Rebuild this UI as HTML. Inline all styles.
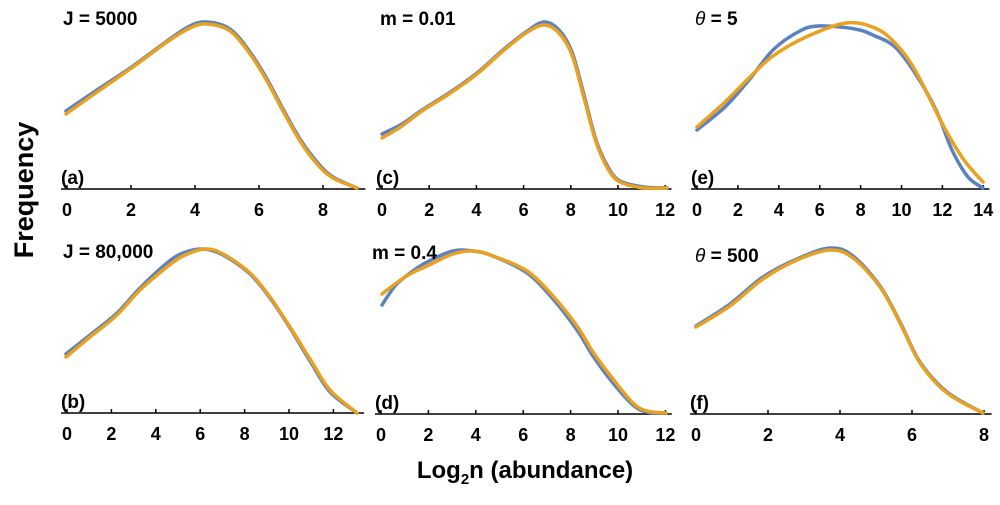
<!DOCTYPE html>
<html><head><meta charset="utf-8">
<style>
body{margin:0;background:#fff;width:1000px;height:500px;overflow:hidden}
svg text{font-family:"Liberation Sans",Arial,sans-serif;font-weight:bold;fill:#000}
</style></head><body>
<svg id="s" width="1000" height="500" viewBox="0 0 1000 500" xmlns="http://www.w3.org/2000/svg">
<g id="axes" stroke="#000" stroke-width="1.5"></g>
<g id="curves" fill="none" stroke-width="3.5" stroke-linecap="round" stroke-linejoin="round"></g>
<g id="txt" font-size="17"></g>
<text x="33" y="190" font-size="27" text-anchor="middle" transform="rotate(-90 33 190)">Frequency</text>
<text x="525" y="478" font-size="24" text-anchor="middle">Log<tspan font-size="15" dy="6">2</tspan><tspan dy="-6">n (abundance)</tspan></text>
</svg>
<script>
var NS="http://www.w3.org/2000/svg";
function el(p,t,a,tx){var e=document.createElementNS(NS,t);for(var k in a)e.setAttribute(k,a[k]);if(tx!=null)e.textContent=tx;document.getElementById(p).appendChild(e);return e;}
function cr(pts){var d="M"+pts[0][0]+","+pts[0][1];for(var i=0;i<pts.length-1;i++){var p0=pts[i-1]||pts[i],p1=pts[i],p2=pts[i+1],p3=pts[i+2]||p2;
d+=" C"+(p1[0]+(p2[0]-p0[0])/6)+","+(p1[1]+(p2[1]-p0[1])/6)+" "+(p2[0]-(p3[0]-p1[0])/6)+","+(p2[1]-(p3[1]-p1[1])/6)+" "+p2[0]+","+p2[1];}return d;}
function sh(a,dx){return a.map(function(q){return [q[0]+dx,q[1]];});}
var panels=[
 {x0:67,y:189,ticks:[0,2,4,6,8],max:9.2,ppu:32,lab:"(a)",title:"J = 5000",tx:63,ty:25,
  b:[[66,111],[100,88],[133,66],[167,41],[190,26],[207,22],[230,29],[250,52],[267,79],[283,109],[300,139],[317,162],[333,177],[357,188]],
  o:[[66,114],[100,90],[133,67],[167,42],[190,28],[207,24],[230,31],[250,54],[267,81],[283,111],[300,141],[317,164],[333,178],[357,188]]},
 {x0:67,y:413,ticks:[0,2,4,6,8,10,12],max:13.2,ppu:22.2,lab:"(b)",title:"J = 80,000",tx:63,ty:258,
  b:[[66,354],[90,335],[117,313],[140,288],[167,263],[183,253],[203,249],[223,255],[250,274],[270,298],[290,328],[310,361],[330,392],[357,413]],
  o:[[66,357],[90,337],[117,315],[140,290],[167,267],[183,256],[205,249],[223,254],[250,273],[270,297],[290,327],[310,359],[330,390],[357,413]]},
 {x0:382,y:189,ticks:[0,2,4,6,8,10,12],max:12.1,ppu:23.6,lab:"(c)",title:"m = 0.01",tx:380,ty:25,
  b:sh([[379,134],[399,124],[419,110],[446,93],[474,73],[500,50],[523,32],[541,22],[556,30],[569,52],[581,95],[593,140],[605,167],[617,181],[641,187],[664,188]],3),
  o:sh([[379,138],[399,126],[419,111],[446,94],[474,74],[500,51],[523,33],[541,25],[556,33],[569,55],[581,98],[593,142],[605,169],[617,182],[641,188],[664,188]],3)},
 {x0:381,y:414,ticks:[0,2,4,6,8,10,12],max:12.1,ppu:23.7,lab:"(d)",title:"m = 0.4",tx:372,ty:259,
  b:[[382,305],[395,286],[410,273],[427,262],[453,251],[473,251],[493,256],[527,273],[553,299],[577,330],[593,356],[613,383],[633,405],[647,412],[666,413]],
  o:[[382,294],[395,284],[410,274],[427,266],[453,254],[473,251],[493,256],[527,271],[553,296],[577,326],[593,352],[613,379],[633,403],[647,411],[666,413]]},
 {x0:697,y:189,ticks:[0,2,4,6,8,10,12,14],max:14.1,ppu:20.45,lab:"(e)",title:"= 5",th:1,tx:695,ty:25,
  b:[[697,130],[725,107],[749,80],[773,50],[798,32],[818,26],[855,29],[875,36],[895,47],[915,73],[936,110],[952,150],[968,177],[983,188]],
  o:[[697,127],[725,102],[749,78],[773,56],[806,37],[846,23],[875,28],[895,43],[915,70],[944,127],[964,160],[983,182]]},
 {x0:696,y:414,ticks:[0,2,4,6,8],max:8.1,ppu:36,lab:"(f)",title:"= 500",th:1,tx:695,ty:262,
  b:[[696,326],[730,304],[763,277],[797,259],[830,248],[853,256],[880,286],[900,322],[920,362],[947,392],[983,413]],
  o:[[696,327],[730,306],[763,279],[797,260],[830,250],[853,258],[880,287],[900,323],[920,363],[947,393],[983,413]]}
];
panels.forEach(function(p){
 el("axes","line",{x1:p.x0-6,x2:p.x0+p.max*p.ppu+4,y1:p.y,y2:p.y});
 p.ticks.forEach(function(t){var x=p.x0+t*p.ppu;el("axes","line",{x1:x,x2:x,y1:p.y,y2:p.y-4});
  el("txt","text",{x:x,y:p.y+27,"text-anchor":"middle","font-size":"18"},String(t));});
 el("txt","text",{x:p.x0-6,y:p.y-5,"font-size":"19"},p.lab);
 if(p.th){var t=el("txt","text",{x:p.tx,y:p.ty,"font-size":"19"});
   var a=document.createElementNS(NS,"tspan");a.setAttribute("font-style","italic");a.setAttribute("font-weight","normal");a.textContent="\u03b8";t.appendChild(a);
   var b=document.createElementNS(NS,"tspan");b.textContent=" "+p.title;t.appendChild(b);}
 else el("txt","text",{x:p.tx,y:p.ty,"font-size":"19"},p.title);
 el("curves","path",{d:cr(p.b),stroke:"#5b82c0"});
 el("curves","path",{d:cr(p.o),stroke:"#e8a120"});
});
</script>
</body></html>
